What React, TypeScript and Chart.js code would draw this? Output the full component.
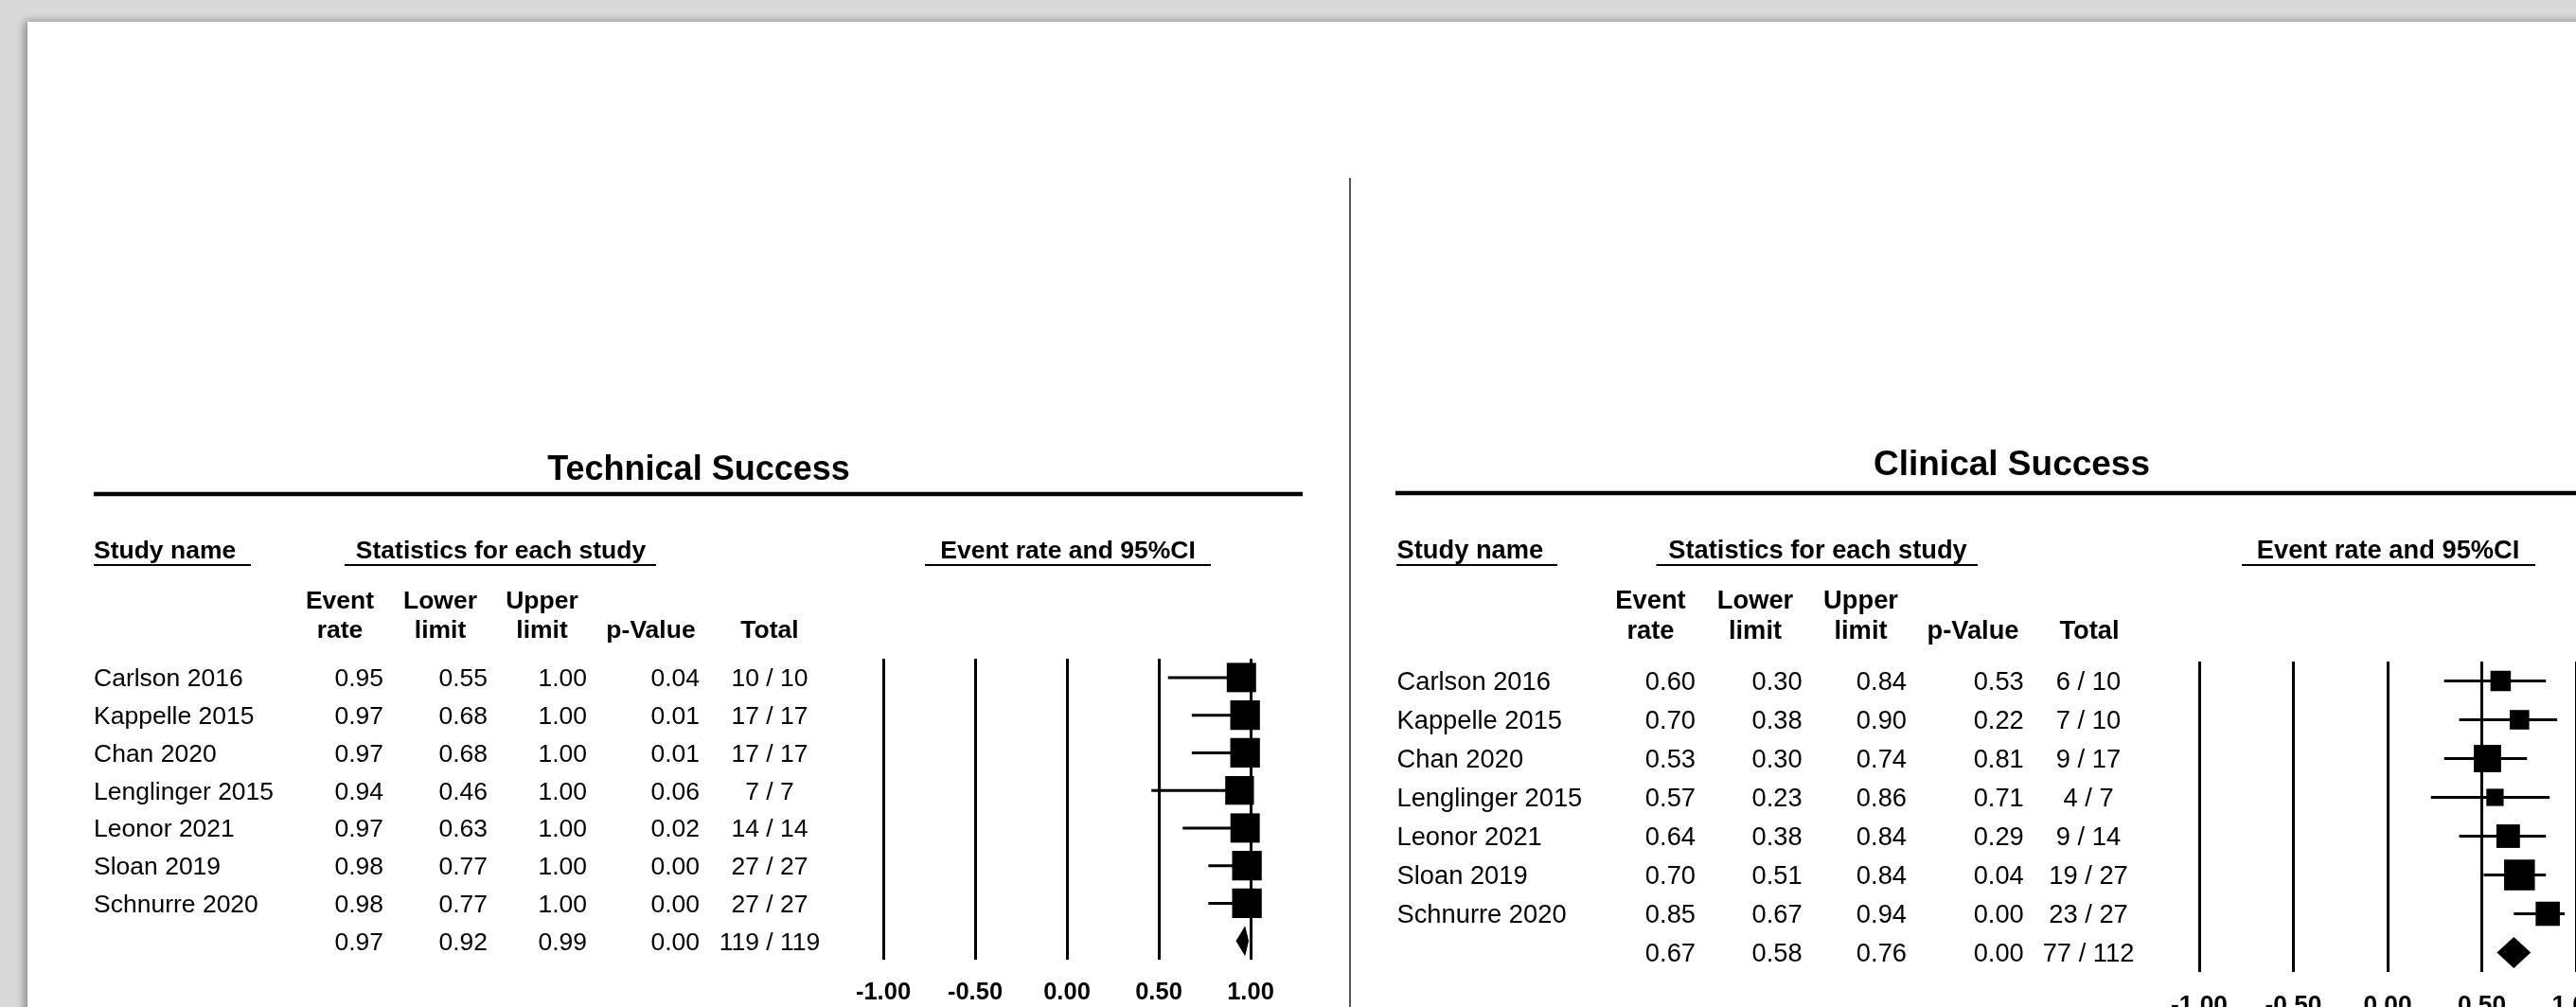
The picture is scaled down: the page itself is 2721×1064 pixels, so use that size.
import React, { useEffect, useRef } from "react";
import { Chart, registerables } from "chart.js";

Chart.register(...registerables);

// ---------------- data ----------------
const studyNames = [
  "Carlson 2016",
  "Kappelle 2015",
  "Chan 2020",
  "Lenglinger 2015",
  "Leonor 2021",
  "Sloan 2019",
  "Schnurre 2020",
];

// Technical success
const techRate = [0.95, 0.97, 0.97, 0.94, 0.97, 0.98, 0.98];
const techLower = [0.55, 0.68, 0.68, 0.46, 0.63, 0.77, 0.77];
const techUpper = [1.0, 1.0, 1.0, 1.0, 1.0, 1.0, 1.0];
const techPValue = [0.04, 0.01, 0.01, 0.06, 0.02, 0.0, 0.0];
const techEvents = [10, 17, 17, 7, 14, 27, 27];
const techTotal = [10, 17, 17, 7, 14, 27, 27];
const techWeight = [14.2, 14.5, 14.5, 13.6, 14.2, 14.5, 14.5];
const techSummaryStats = [0.97, 0.92, 0.99, 0.0]; // rate, lower, upper, p
const techSummaryCounts = [119, 119];

// Clinical success
const clinRate = [0.6, 0.7, 0.53, 0.57, 0.64, 0.7, 0.85];
const clinLower = [0.3, 0.38, 0.3, 0.23, 0.38, 0.51, 0.67];
const clinUpper = [0.84, 0.9, 0.74, 0.86, 0.84, 0.84, 0.94];
const clinPValue = [0.53, 0.22, 0.81, 0.71, 0.29, 0.04, 0.0];
const clinEvents = [6, 7, 9, 4, 9, 19, 23];
const clinTotal = [10, 10, 17, 7, 14, 27, 27];
const clinWeight = [10.6, 9.7, 19.0, 7.6, 14.1, 24.1, 14.9];
const clinSummaryStats = [0.67, 0.58, 0.76, 0.0];
const clinSummaryCounts = [77, 112];

const panelTitles = ["Technical Success", "Clinical Success"];
const groupHeaders = ["Study name", "Statistics for each study", "Event rate and 95%CI"];
const columnHeadTop = ["Event", "Lower", "Upper", "", ""];
const columnHeadBottom = ["rate", "limit", "limit", "p-Value", "Total"];
const axisTicks = [-1, -0.5, 0, 0.5, 1];
const axisTickLabels = ["-1.00", "-0.50", "0.00", "0.50", "1.00"];

// ---------------- layout ----------------
const FONT = '"Liberation Sans", Arial, Helvetica, sans-serif';

const leftLayout = {
  offsetX: 0, width: 1420, height: 1064,
  area: { left: 933, right: 1321, top: 696, bottom: 1014 },
  font: 26.5, titleFont: 36, tickFont: 25.5, tickPad: 20,
  titleX: 738, titleY: 507,
  ruleX0: 99, ruleX1: 1376, ruleY: 522, ruleW: 4.5,
  studyX: 99, studyUl: [99, 265],
  statX: 529, statUl: [364, 693],
  ciX: 1128, ciUl: [977, 1279],
  headY: 590, ulY: 597,
  colCenters: [359, 465, 572.5, 687.5, 813],
  head1Y: 643, head2Y: 674,
  colRight: [405, 515, 620, 739], totalX: 813,
  maxBox: 31.3, diamondHalf: 16,
};

const rightLayout = {
  offsetX: 1430, width: 1400, height: 1064,
  area: { left: 2323, right: 2721, top: 699, bottom: 1027 },
  font: 27.3, titleFont: 37, tickFont: 26.3, tickPad: 19.5,
  titleX: 2125, titleY: 502,
  ruleX0: 1474, ruleX1: 2830, ruleY: 521, ruleW: 4.5,
  studyX: 1475.5, studyUl: [1475, 1645],
  statX: 1920, statUl: [1749.5, 2089],
  ciX: 2522.6, ciUl: [2368, 2678],
  headY: 590, ulY: 597,
  colCenters: [1743.5, 1854, 1965.5, 2084, 2207],
  head1Y: 643, head2Y: 675,
  colRight: [1791, 1903.6, 2014, 2137.8], totalX: 2206,
  maxBox: 32.5, diamondHalf: 16.5,
};

type Spec = {
  title: string;
  rate: number[]; lower: number[]; upper: number[]; pval: number[];
  events: number[]; total: number[]; weight: number[];
  summary: number[]; summaryCounts: number[];
  layout: typeof leftLayout;
};

const panels: Spec[] = [
  {
    title: panelTitles[0], rate: techRate, lower: techLower, upper: techUpper, pval: techPValue,
    events: techEvents, total: techTotal, weight: techWeight,
    summary: techSummaryStats, summaryCounts: techSummaryCounts, layout: leftLayout,
  },
  {
    title: panelTitles[1], rate: clinRate, lower: clinLower, upper: clinUpper, pval: clinPValue,
    events: clinEvents, total: clinTotal, weight: clinWeight,
    summary: clinSummaryStats, summaryCounts: clinSummaryCounts, layout: rightLayout,
  },
];

function makePlugin(spec: Spec) {
  const L = spec.layout;
  const ox = L.offsetX;
  return {
    id: "forestTable",
    afterDatasetsDraw(chart: any) {
      const ctx = chart.ctx;
      const xs = chart.scales.x;
      const ys = chart.scales.y;
      const yc = ys.getPixelForValue(studyNames.length);
      const [r, lo, hi] = spec.summary;
      ctx.save();
      ctx.fillStyle = "#000";
      ctx.beginPath();
      ctx.moveTo(xs.getPixelForValue(lo), yc);
      ctx.lineTo(xs.getPixelForValue(r), yc - L.diamondHalf);
      ctx.lineTo(xs.getPixelForValue(hi), yc);
      ctx.lineTo(xs.getPixelForValue(r), yc + L.diamondHalf);
      ctx.closePath();
      ctx.fill();
      ctx.restore();
    },
    afterDraw(chart: any) {
      const ctx = chart.ctx;
      const ys = chart.scales.y;
      ctx.save();
      ctx.fillStyle = "#000";
      ctx.strokeStyle = "#000";
      ctx.lineCap = "butt";
      ctx.textBaseline = "alphabetic";

      // title
      ctx.font = `bold ${L.titleFont}px ${FONT}`;
      ctx.textAlign = "center";
      ctx.fillText(spec.title, L.titleX - ox, L.titleY);
      ctx.lineWidth = L.ruleW;
      ctx.beginPath();
      ctx.moveTo(L.ruleX0 - ox, L.ruleY);
      ctx.lineTo(L.ruleX1 - ox, L.ruleY);
      ctx.stroke();

      // group headers
      ctx.font = `bold ${L.font}px ${FONT}`;
      ctx.textAlign = "left";
      ctx.fillText(groupHeaders[0], L.studyX - ox, L.headY);
      ctx.textAlign = "center";
      ctx.fillText(groupHeaders[1], L.statX - ox, L.headY);
      ctx.fillText(groupHeaders[2], L.ciX - ox, L.headY);
      ctx.lineWidth = 2;
      [L.studyUl, L.statUl, L.ciUl].forEach((u) => {
        ctx.beginPath();
        ctx.moveTo(u[0] - ox, L.ulY);
        ctx.lineTo(u[1] - ox, L.ulY);
        ctx.stroke();
      });

      // column headers
      columnHeadTop.forEach((t, i) => {
        if (t) ctx.fillText(t, L.colCenters[i] - ox, L.head1Y);
      });
      columnHeadBottom.forEach((t, i) => {
        if (t) ctx.fillText(t, L.colCenters[i] - ox, L.head2Y);
      });

      // rows
      ctx.font = `${L.font}px ${FONT}`;
      const off = (0.716 * L.font) / 2;
      const drawRow = (name: string, vals: number[], count: string, i: number) => {
        const y = ys.getPixelForValue(i) + off;
        if (name) {
          ctx.textAlign = "left";
          ctx.fillText(name, L.studyX - ox, y);
        }
        ctx.textAlign = "right";
        vals.forEach((v, k) => ctx.fillText(v.toFixed(2), L.colRight[k] - ox, y));
        ctx.textAlign = "center";
        ctx.fillText(count, L.totalX - ox, y);
      };
      studyNames.forEach((n, i) =>
        drawRow(
          n,
          [spec.rate[i], spec.lower[i], spec.upper[i], spec.pval[i]],
          `${spec.events[i]} / ${spec.total[i]}`,
          i
        )
      );
      drawRow(
        "",
        spec.summary,
        `${spec.summaryCounts[0]} / ${spec.summaryCounts[1]}`,
        studyNames.length
      );
      ctx.restore();
    },
  };
}

function buildConfig(spec: Spec): any {
  const L = spec.layout;
  const maxW = Math.max(...spec.weight);
  const datasets: any[] = studyNames.map((_, i) => ({
    type: "scatter",
    showLine: true,
    data: [
      { x: spec.lower[i], y: i },
      { x: spec.upper[i], y: i },
    ],
    borderColor: "#000",
    borderWidth: 3,
    pointRadius: 0,
    clip: false,
  }));
  datasets.push({
    type: "scatter",
    data: studyNames.map((_, i) => ({ x: spec.rate[i], y: i })),
    pointStyle: "rect",
    pointRadius: spec.weight.map((w) => (L.maxBox * Math.sqrt(w / maxW)) / Math.SQRT2),
    backgroundColor: "#000",
    borderColor: "#000",
    borderWidth: 0,
    clip: false,
  });
  return {
    type: "scatter",
    data: { datasets },
    options: {
      responsive: false,
      animation: false,
      devicePixelRatio: 1,
      events: [],
      layout: {
        padding: {
          left: L.area.left - L.offsetX,
          right: L.width - (L.area.right - L.offsetX),
          top: L.area.top,
          bottom: 0,
        },
      },
      plugins: {
        legend: { display: false },
        tooltip: { enabled: false },
        title: { display: false },
      },
      scales: {
        x: {
          type: "linear",
          position: "bottom",
          min: axisTicks[0],
          max: axisTicks[axisTicks.length - 1],
          afterBuildTicks: (s: any) => {
            s.ticks = axisTicks.map((v) => ({ value: v }));
          },
          afterFit: (s: any) => {
            s.height = L.height - L.area.bottom;
          },
          grid: { color: "#000", lineWidth: 3, drawTicks: false },
          border: { display: false },
          ticks: {
            color: "#000",
            autoSkip: false,
            maxRotation: 0,
            padding: L.tickPad,
            font: { family: FONT, size: L.tickFont, weight: "bold" },
            callback: (v: number) => axisTickLabels[axisTicks.indexOf(v)] ?? "",
          },
        },
        y: { type: "linear", display: false, reverse: true, min: -0.5, max: 7.5 },
      },
    },
    plugins: [makePlugin(spec)],
  };
}

function ForestPanel({ spec }: { spec: Spec }) {
  const ref = useRef<HTMLCanvasElement>(null);
  useEffect(() => {
    if (!ref.current) return;
    const chart = new Chart(ref.current, buildConfig(spec));
    return () => chart.destroy();
  }, [spec]);
  const L = spec.layout;
  return (
    <canvas
      ref={ref}
      width={L.width}
      height={L.height}
      style={{
        position: "absolute",
        left: L.offsetX,
        top: 0,
        width: L.width,
        height: L.height,
      }}
    />
  );
}

export default function App() {
  return (
    <div
      style={{
        position: "fixed",
        left: 0,
        top: 0,
        width: "100vw",
        height: "100vh",
        overflow: "hidden",
        background: "#d9d9d9",
      }}
    >
      <div
        style={{
          position: "absolute",
          left: 29,
          top: 23,
          width: 3000,
          height: 1200,
          background: "#fff",
          boxShadow: "-3px 0px 9px rgba(0,0,0,0.4)",
        }}
      />
      <div
        style={{
          position: "absolute",
          left: 1425,
          top: 188,
          width: 2,
          height: 900,
          background: "#555",
        }}
      />
      {panels.map((p, i) => (
        <ForestPanel key={i} spec={p} />
      ))}
    </div>
  );
}
